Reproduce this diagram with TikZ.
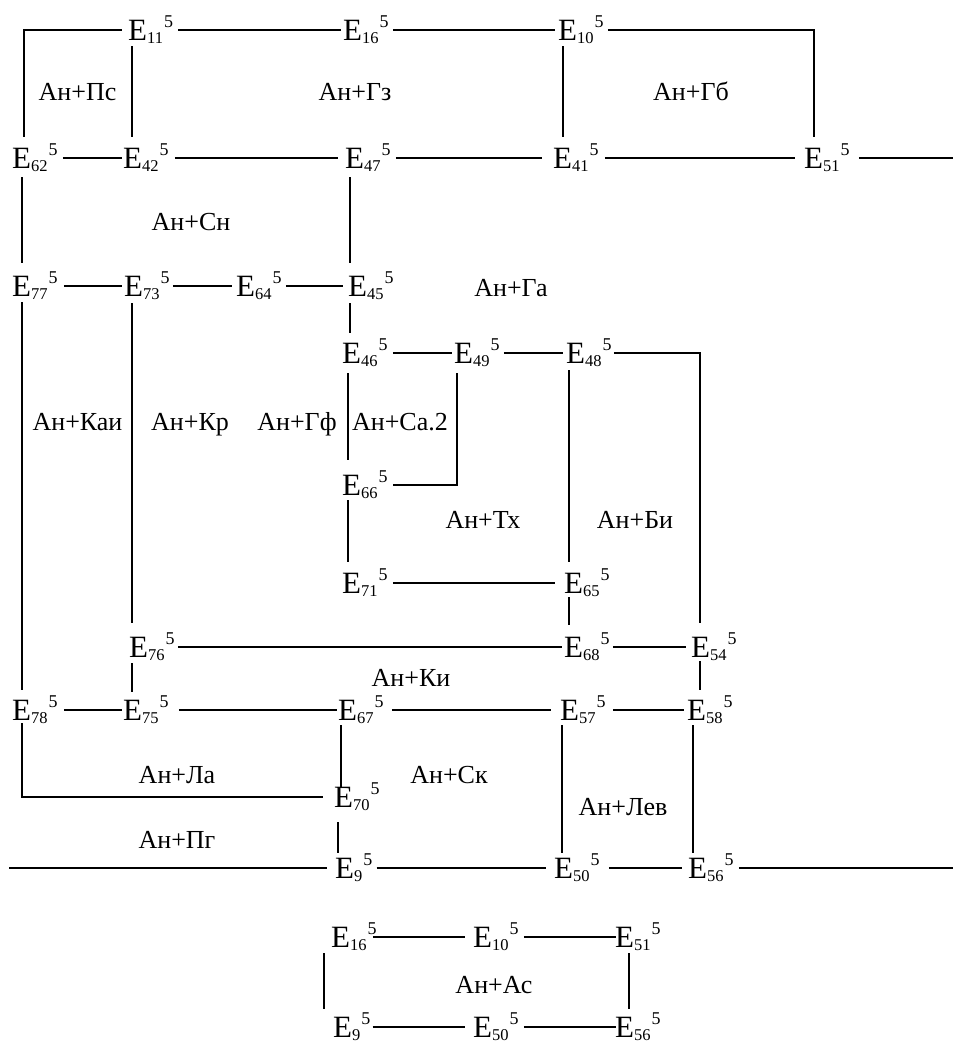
\documentclass[tikz,border=0pt]{standalone}
\usepackage{fontspec}
\setmainfont{Liberation Serif}
\newcommand\Ev[1]{{\fontsize{31}{34}\selectfont E}\raisebox{-3pt}{\fontsize{16.5}{18}\selectfont #1}\kern1pt\raisebox{13pt}{\fontsize{18}{20}\selectfont 5}}
\newcommand\Hc[4]{\draw[ln,shorten <=#3pt,shorten >=#4pt] (#1.east) -- (#2.west);}
\newcommand\Vc[5]{\draw[ln,shorten <=#4pt,shorten >=#5pt] (#1 |- #2.south) -- (#1 |- #3.north);}
\begin{document}
\begin{tikzpicture}[x=1pt,y=-1pt,
  font=\fontsize{26}{30}\selectfont,
  ev/.style={inner sep=0pt,anchor=west},
  lab/.style={inner sep=0pt,anchor=base},
  ln/.style={line width=1.8pt}]
\useasboundingbox (0,0) rectangle (953,1046);
% column coordinates
\coordinate (xa) at (22,0);
\coordinate (xb) at (24,0);
\coordinate (xc) at (132,0);
\coordinate (xd) at (563,0);
\coordinate (xe) at (814,0);
\coordinate (xf) at (350,0);
\coordinate (xg) at (348,0);
\coordinate (xh) at (457,0);
\coordinate (xi) at (569,0);
\coordinate (xj) at (700,0);
\coordinate (xk) at (341,0);
\coordinate (xl) at (338,0);
\coordinate (xm) at (562,0);
\coordinate (xn) at (693,0);
\coordinate (xo) at (324,0);
\coordinate (xp) at (629,0);
\coordinate (lft) at (9,0);
\coordinate (rgt) at (953,0);
% nodes
\node[ev] (e11) at (128,30) {\Ev{11}};
\node[ev] (e16) at (343,30) {\Ev{16}};
\node[ev] (e10) at (558,30) {\Ev{10}};
\node[ev] (e62) at (12,158) {\Ev{62}};
\node[ev] (e42) at (123,158) {\Ev{42}};
\node[ev] (e47) at (345,158) {\Ev{47}};
\node[ev] (e41) at (553,158) {\Ev{41}};
\node[ev] (e51) at (804,158) {\Ev{51}};
\node[ev] (e77) at (12,286) {\Ev{77}};
\node[ev] (e73) at (124,286) {\Ev{73}};
\node[ev] (e64) at (236,286) {\Ev{64}};
\node[ev] (e45) at (348,286) {\Ev{45}};
\node[ev] (e46) at (342,353) {\Ev{46}};
\node[ev] (e49) at (454,353) {\Ev{49}};
\node[ev] (e48) at (566,353) {\Ev{48}};
\node[ev] (e66) at (342,485) {\Ev{66}};
\node[ev] (e71) at (342,583) {\Ev{71}};
\node[ev] (e65) at (564,583) {\Ev{65}};
\node[ev] (e76) at (129,647) {\Ev{76}};
\node[ev] (e68) at (564,647) {\Ev{68}};
\node[ev] (e54) at (691,647) {\Ev{54}};
\node[ev] (e78) at (12,710) {\Ev{78}};
\node[ev] (e75) at (123,710) {\Ev{75}};
\node[ev] (e67) at (338,710) {\Ev{67}};
\node[ev] (e57) at (560,710) {\Ev{57}};
\node[ev] (e58) at (687,710) {\Ev{58}};
\node[ev] (e70) at (334,797) {\Ev{70}};
\node[ev] (e9) at (335,868) {\Ev{9}};
\node[ev] (e50) at (554,868) {\Ev{50}};
\node[ev] (e56) at (688,868) {\Ev{56}};
\node[ev] (b16) at (331,937) {\Ev{16}};
\node[ev] (b10) at (473,937) {\Ev{10}};
\node[ev] (b51) at (615,937) {\Ev{51}};
\node[ev] (b9) at (333,1027) {\Ev{9}};
\node[ev] (b50) at (473,1027) {\Ev{50}};
\node[ev] (b56) at (615,1027) {\Ev{56}};
% labels
\node[lab] (l1) at (77.5,100.5) {Ан+Пс};
\node[lab] (l2) at (355,100.5) {Ан+Гз};
\node[lab] (l3) at (691,100.5) {Ан+Гб};
\node[lab] (l4) at (191,230.5) {Ан+Сн};
\node[lab] (l5) at (511,296.5) {Ан+Га};
\node[lab] (l6) at (77.5,430.5) {Ан+Каи};
\node[lab] (l7) at (190,430.5) {Ан+Кр};
\node[lab] (l8) at (297,430.5) {Ан+Гф};
\node[lab] (l9) at (400,430.5) {Ан+Са.2};
\node[lab] (l10) at (483,528.5) {Ан+Тх};
\node[lab] (l11) at (635,528.5) {Ан+Би};
\node[lab] (l12) at (411,686.5) {Ан+Ки};
\node[lab] (l13) at (177,783.5) {Ан+Ла};
\node[lab] (l14) at (449,783.5) {Ан+Ск};
\node[lab] (l15) at (623,815.5) {Ан+Лев};
\node[lab] (l16) at (177,848.5) {Ан+Пг};
\node[lab] (l17) at (494,993.5) {Ан+Ас};
% horizontal connectors
\Hc{e11}{e16}{5}{2}
\Hc{e16}{e10}{4}{3}
\Hc{e62}{e42}{5}{1}
\Hc{e42}{e47}{6}{7}
\Hc{e47}{e41}{5}{11}
\Hc{e41}{e51}{6}{9}
\draw[ln,shorten <=9pt] (e51.east) -- (rgt |- e51.east);
\Hc{e77}{e73}{6}{2}
\Hc{e73}{e64}{3}{4}
\Hc{e64}{e45}{4}{5}
\Hc{e46}{e49}{5}{2}
\Hc{e49}{e48}{4}{3}
\Hc{e71}{e65}{5}{9}
\Hc{e76}{e68}{3}{2}
\Hc{e68}{e54}{3}{5}
\Hc{e78}{e75}{6}{1}
\Hc{e75}{e67}{10}{1}
\Hc{e67}{e57}{8}{9}
\Hc{e57}{e58}{7}{3}
\draw[ln,shorten >=8pt] (lft |- e9.west) -- (e9.west);
\Hc{e9}{e50}{4}{8}
\Hc{e50}{e56}{9}{6}
\draw[ln,shorten <=5pt] (e56.east) -- (rgt |- e56.east);
\Hc{b16}{b10}{-4}{8}
\Hc{b10}{b51}{5}{-1}
\Hc{b9}{b50}{2}{8}
\Hc{b50}{b56}{5}{-1}
% corner connectors
\draw[ln,shorten <=7pt,shorten >=6pt] (xb |- e62.north) |- (e11.west);
\draw[ln,shorten <=4pt,shorten >=7pt] (e10.east) -| (xe |- e51.north);
\draw[ln,shorten <=2pt,shorten >=10pt] (e48.east) -| (xj |- e54.north);
\draw[ln,shorten <=6pt,shorten >=5pt] (xh |- e49.south) |- (e66.east);
\draw[ln,shorten <=-1pt,shorten >=11pt] (xa |- e78.south) |- (e70.west);
% vertical connectors
\Vc{xc}{e11}{e42}{2}{7}
\Vc{xd}{e10}{e41}{2}{7}
\Vc{xa}{e62}{e77}{5}{9}
\Vc{xf}{e47}{e45}{5}{9}
\Vc{xa}{e77}{e78}{2}{6}
\Vc{xc}{e73}{e76}{3}{10}
\Vc{xf}{e45}{e46}{3}{6}
\Vc{xg}{e46}{e66}{6}{11}
\Vc{xi}{e48}{e65}{3}{7}
\Vc{xg}{e66}{e71}{1}{7}
\Vc{xi}{e65}{e68}{0}{8}
\Vc{xc}{e76}{e75}{2}{4}
\Vc{xj}{e54}{e58}{0}{6}
\Vc{xk}{e67}{e70}{1}{-4}
\Vc{xl}{e70}{e9}{11}{1}
\Vc{xm}{e57}{e50}{1}{1}
\Vc{xn}{e58}{e56}{1}{1}
\Vc{xo}{b16}{b9}{2}{4}
\Vc{xp}{b51}{b56}{2}{4}
\end{tikzpicture}
\end{document}
